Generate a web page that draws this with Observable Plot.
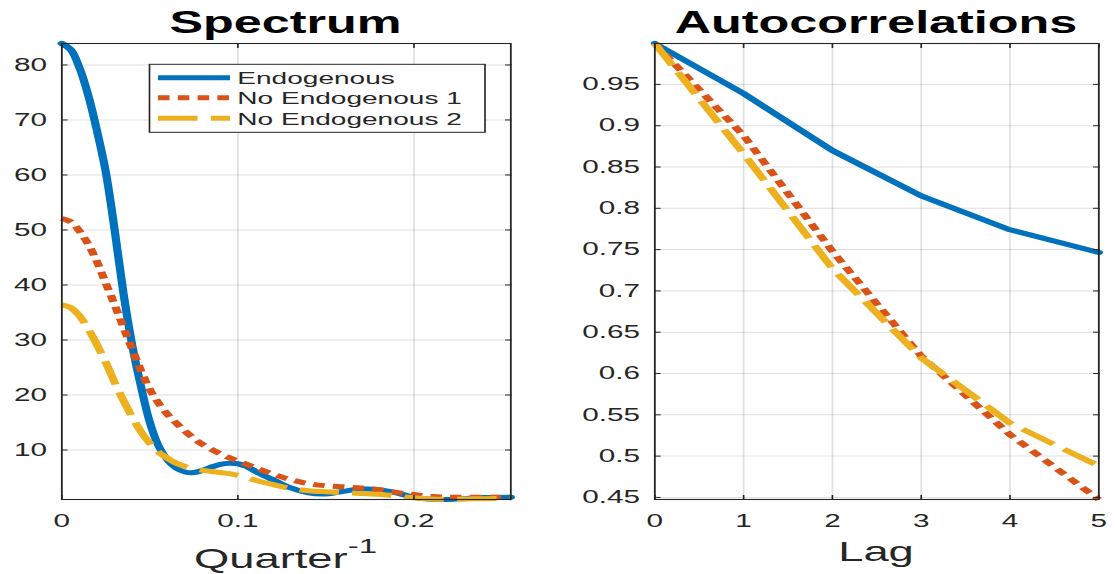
<!DOCTYPE html>
<html><head><meta charset="utf-8">
<script src="https://cdn.jsdelivr.net/npm/d3@7"></script>
<script src="https://cdn.jsdelivr.net/npm/@observablehq/plot@0.6"></script>
<style>
html,body{margin:0;padding:0;background:#fff;overflow:hidden;}
#fig{position:relative;width:675.8px;height:574px;transform:scaleX(1.65);transform-origin:0 0;font-family:"Liberation Sans",Arial,sans-serif;}
#fig svg{position:absolute;top:0;overflow:visible;}
</style></head><body><div id="fig"></div>
<script>
// ---------- data ----------
const seriesNames = ["Endogenous", "No Endogenous 1", "No Endogenous 2"];
const seriesColors = ["#0072BD", "#D95319", "#EDB120"];
const seriesDash = [null, "7,5", "24,8"];

// Spectrum (frequency in Quarter^-1)
const freq = [0,0.005,0.01,0.015,0.02,0.025,0.03,0.035,0.04,0.045,0.05,0.055,0.06,0.065,0.07,0.075,0.08,0.085,0.09,0.095,0.1,0.105,0.11,0.12,0.13,0.14,0.15,0.16,0.17,0.18,0.19,0.2,0.21,0.22,0.23,0.24,0.255];
const specEndo = [83.9,82.8,79.5,74.5,68.0,60.5,50.0,38.5,29.0,21.5,15.0,10.7,8.2,6.7,6.0,5.9,6.3,6.9,7.4,7.6,7.5,7.0,6.1,4.6,3.1,2.2,2.0,2.5,2.9,2.8,2.2,1.4,1.05,1.0,1.2,1.35,1.4];
const specNo1 = [52.1,51.5,49.8,47.4,44.2,40.3,36.4,32.3,28.3,24.4,21.0,18.5,16.5,14.9,13.4,12.1,11.0,10.1,9.3,8.6,8.0,7.4,6.8,5.6,4.6,3.9,3.5,3.3,3.1,2.8,2.3,1.9,1.55,1.4,1.4,1.4,1.4];
const specNo2 = [36.4,35.9,34.4,32.0,29.1,25.9,22.3,19.0,16.0,13.3,11.2,9.6,8.5,7.6,7.0,6.6,6.3,6.1,5.9,5.7,5.4,5.0,4.5,3.7,3.0,2.6,2.4,2.25,2.1,1.95,1.65,1.3,1.1,1.05,1.1,1.15,1.2];
const specXTicks = [0, 0.1, 0.2];
const specYTicks = [10, 20, 30, 40, 50, 60, 70, 80];
const specXMax = 0.255;

// Autocorrelations
const lags = [0, 1, 2, 3, 4, 5];
const acfEndo = [0.9995, 0.939, 0.870, 0.815, 0.774, 0.7465];
const acfNo1 = [0.9995, 0.888, 0.748, 0.621, 0.526, 0.4475];
const acfNo2 = [0.9995, 0.866, 0.727, 0.619, 0.540, 0.488];
const acfXTicks = [0, 1, 2, 3, 4, 5];
const acfYTicks = [0.45, 0.5, 0.55, 0.6, 0.65, 0.7, 0.75, 0.8, 0.85, 0.9, 0.95];

// ---------- drawing ----------
const S = 1.65;           // horizontal stretch of the whole figure
const AX = "#262626";

function panel({xs, ys, xDomain, xTicks, yTicks, curve, width, ml, mr}) {
  const all = ys.flat();
  const yDomain = d3.extent(all);
  const lines = ys.map((vals, i) => Plot.line(vals, {
    x: xs, y: d => d, curve,
    stroke: seriesColors[i], strokeWidth: 5,
    strokeDasharray: seriesDash[i] || undefined,
    strokeLinecap: seriesDash[i] ? "butt" : "round",
    strokeLinejoin: "round"
  }));
  const gridStyle = {stroke: AX, strokeOpacity: 0.15, strokeWidth: 1};
  return Plot.plot({
    width, height: 574,
    marginLeft: ml, marginRight: mr, marginTop: 43, marginBottom: 75,
    x: {domain: xDomain, label: null},
    y: {domain: yDomain, label: null},
    style: {fontFamily: '"Liberation Sans", Arial, sans-serif', fontSize: "18px", color: AX, background: "transparent", overflow: "visible"},
    marks: [
      Plot.gridX({ticks: xTicks, ...gridStyle}),
      Plot.gridY({ticks: yTicks, ...gridStyle}),
      ...lines,
      Plot.frame({stroke: AX, strokeWidth: 1.1}),
      Plot.axisX({ticks: xTicks, anchor: "bottom", tickSize: 0, tickPadding: 15, tickFormat: d => String(d), label: null}),
      Plot.axisX({ticks: xTicks, anchor: "bottom", tickSize: -4, tickFormat: () => "", label: null}),
      Plot.axisX({ticks: xTicks, anchor: "top", tickSize: -4, tickFormat: () => "", label: null}),
      Plot.axisY({ticks: yTicks, anchor: "left", tickSize: 0, tickPadding: 9, tickFormat: d => String(d), label: null}),
      Plot.axisY({ticks: yTicks, anchor: "left", tickSize: -4, tickFormat: () => "", label: null}),
      Plot.axisY({ticks: yTicks, anchor: "right", tickSize: -4, tickFormat: () => "", label: null})
    ]
  });
}

const fig = document.getElementById("fig");
const W = 1115 / S;

const left = panel({
  xs: freq, ys: [specEndo, specNo1, specNo2], xDomain: [0, specXMax],
  xTicks: specXTicks, yTicks: specYTicks, curve: "catmull-rom",
  width: 330, ml: 61 / S, mr: 330 - 510 / S
});
left.style.left = "0px";
fig.appendChild(left);

const rightX0 = 340;
const right = panel({
  xs: lags, ys: [acfEndo, acfNo1, acfNo2], xDomain: [0, 5],
  xTicks: acfXTicks, yTicks: acfYTicks, curve: "linear",
  width: W - rightX0, ml: 654 / S - rightX0, mr: W - 1098 / S
});
right.style.left = rightX0 + "px";
fig.appendChild(right);

// ---------- titles, axis labels, legend ----------
const ns = "http://www.w3.org/2000/svg";
const ov = document.createElementNS(ns, "svg");
ov.setAttribute("width", W); ov.setAttribute("height", 574);
ov.style.left = "0px";
ov.style.fontFamily = '"Liberation Sans", Arial, sans-serif';
function el(tag, attrs, text) {
  const e = document.createElementNS(ns, tag);
  for (const k in attrs) e.setAttribute(k, attrs[k]);
  if (text != null) e.textContent = text;
  ov.appendChild(e);
  return e;
}
const titles = ["Spectrum", "Autocorrelations"];
const cxL = (61 + 510) / 2 / S, cxR = (654 + 1098) / 2 / S;
el("text", {x: cxL, y: 33, "text-anchor": "middle", "font-size": 30.5, "font-weight": "bold", fill: "#000"}, titles[0]);
el("text", {x: cxR, y: 33, "text-anchor": "middle", "font-size": 30.5, "font-weight": "bold", fill: "#000"}, titles[1]);

const xl = el("text", {x: cxL, y: 568, "text-anchor": "middle", "font-size": 27.5, fill: AX}, "Quarter");
const sup = document.createElementNS(ns, "tspan");
sup.setAttribute("dy", -15); sup.setAttribute("font-size", 20); sup.textContent = "-1";
xl.appendChild(sup);
el("text", {x: cxR, y: 561, "text-anchor": "middle", "font-size": 27.5, fill: AX}, "Lag");

// legend
const lgX = 149.5 / S, lgW = (485 - 149.5) / S;
el("rect", {x: lgX, y: 64.3, width: lgW, height: 68, fill: "#fff", stroke: AX, "stroke-width": 1});
const rowsY = [77.7, 97.7, 118.3];
seriesNames.forEach((name, i) => {
  const a = {x1: 158 / S, x2: 230 / S, y1: rowsY[i], y2: rowsY[i], stroke: seriesColors[i], "stroke-width": 5, "stroke-linecap": "butt"};
  if (seriesDash[i]) a["stroke-dasharray"] = seriesDash[i];
  el("line", a);
  el("text", {x: 237.3 / S, y: rowsY[i] + 6.3, "font-size": 17, fill: AX}, name);
});
fig.appendChild(ov);
</script></body></html>
